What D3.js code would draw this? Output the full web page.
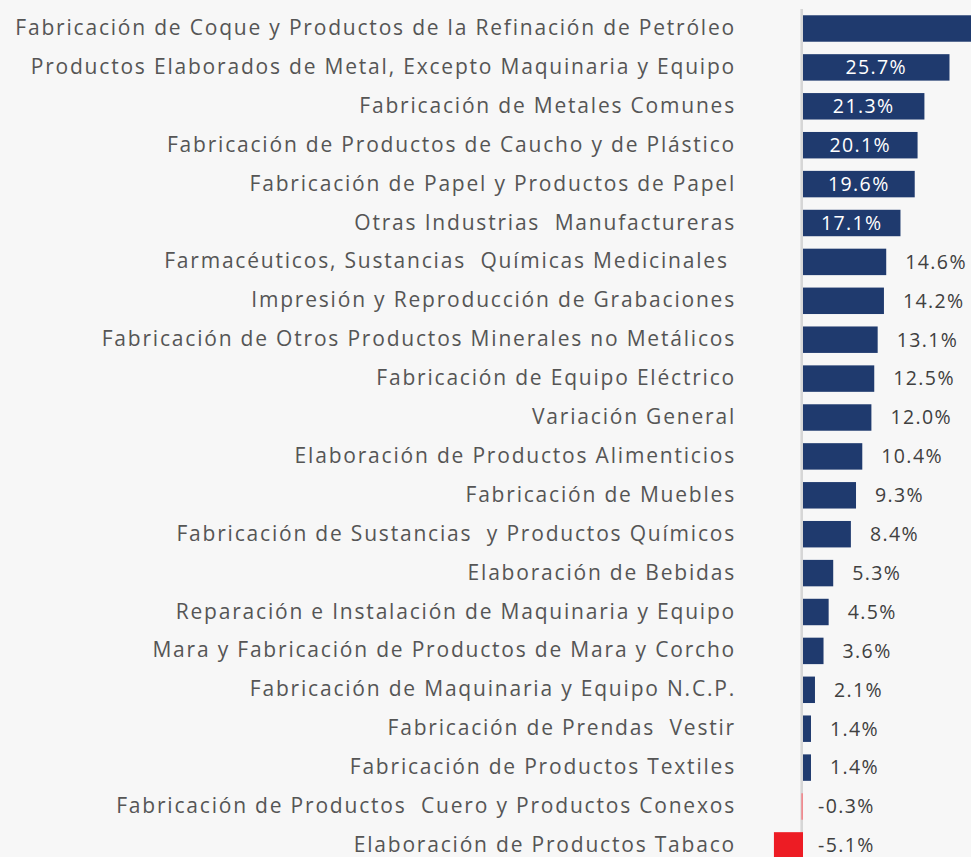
<!DOCTYPE html>
<html><head><meta charset="utf-8">
<script src="https://cdn.jsdelivr.net/npm/d3@7"></script>
<style>
html,body{margin:0;padding:0;background:#f7f7f7;}
svg{display:block;}
</style></head>
<body>
<script>
const categories = [
  "Fabricación de Coque y Productos de la Refinación de Petróleo",
  "Productos Elaborados de Metal, Excepto Maquinaria y Equipo",
  "Fabricación de Metales Comunes",
  "Fabricación de Productos de Caucho y de Plástico",
  "Fabricación de Papel y Productos de Papel",
  "Otras Industrias  Manufactureras",
  "Farmacéuticos, Sustancias  Químicas Medicinales ",
  "Impresión y Reproducción de Grabaciones",
  "Fabricación de Otros Productos Minerales no Metálicos",
  "Fabricación de Equipo Eléctrico",
  "Variación General",
  "Elaboración de Productos Alimenticios",
  "Fabricación de Muebles",
  "Fabricación de Sustancias  y Productos Químicos",
  "Elaboración de Bebidas",
  "Reparación e Instalación de Maquinaria y Equipo",
  "Mara y Fabricación de Productos de Mara y Corcho",
  "Fabricación de Maquinaria y Equipo N.C.P.",
  "Fabricación de Prendas  Vestir",
  "Fabricación de Productos Textiles",
  "Fabricación de Productos  Cuero y Productos Conexos",
  "Elaboración de Productos Tabaco"
];
const values = [76.5, 25.7, 21.3, 20.1, 19.6, 17.1, 14.6, 14.2, 13.1, 12.5, 12.0, 10.4, 9.3, 8.4, 5.3, 4.5, 3.6, 2.1, 1.4, 1.4, -0.3, -5.1];
const insideThreshold = 15; // labels drawn inside bars above this value

const W = 971, H = 857;
const svg = d3.select("body").append("svg").attr("width", W).attr("height", H)
  .style("font-family", "'Open Sans', sans-serif");
svg.append("rect").attr("width", W).attr("height", H).attr("fill", "#f7f7f7");

const y = d3.scaleBand().domain(categories).range([9.05, 864.85]).paddingInner(0.32).paddingOuter(0.16);
const x = d3.scaleLinear().domain([0, 30]).range([803, 974]);

const data = categories.map((c, i) => ({c, v: values[i]}));

// axis line
svg.append("line").attr("x1", x(0) - 1.3).attr("x2", x(0) - 1.3)
  .attr("y1", 9).attr("y2", H).attr("stroke", "#d6d6d6").attr("stroke-width", 2.6);

svg.append("g").selectAll("rect").data(data).join("rect")
  .attr("x", d => Math.min(x(0), x(d.v)))
  .attr("y", d => y(d.c))
  .attr("width", d => Math.max(1.2, Math.abs(x(d.v) - x(0))))
  .attr("height", y.bandwidth())
  .attr("fill", d => d.v < 0 ? (d.v > -1 ? "#f08a8f" : "#ed1c24") : "#1f3a6e");

// category labels
const yAxis = d3.axisLeft(y).tickSize(0).tickPadding(0);
const ga = svg.append("g").attr("transform", "translate(736,0)").call(yAxis);
ga.select(".domain").remove();
ga.selectAll("text").attr("font-size", 21).attr("fill", "#555555")
  .attr("font-family", "'Open Sans', sans-serif").style("letter-spacing", "1.8px")
  .style("white-space", "pre")
  .attr("dy", "0.31em");

// value labels (a label whose centre falls past the right edge is not visible)
const fmt = v => v.toFixed(1) + "%";
const labelX = d => d.v >= insideThreshold ? (x(0) + x(d.v)) / 2 : (d.v >= 0 ? x(d.v) + 19 : x(0) + 15);
svg.append("g").selectAll("text").data(data.filter(d => labelX(d) < W - 40)).join("text")
  .attr("x", labelX)
  .attr("y", d => y(d.c) + y.bandwidth() / 2)
  .attr("dy", "0.35em")
  .attr("text-anchor", d => d.v >= insideThreshold ? "middle" : "start")
  .attr("font-size", 19.5)
  .style("letter-spacing", "1.4px")
  .attr("fill", d => d.v >= insideThreshold ? "#ffffff" : "#404040")
  .text(d => fmt(d.v));
</script>
</body></html>
